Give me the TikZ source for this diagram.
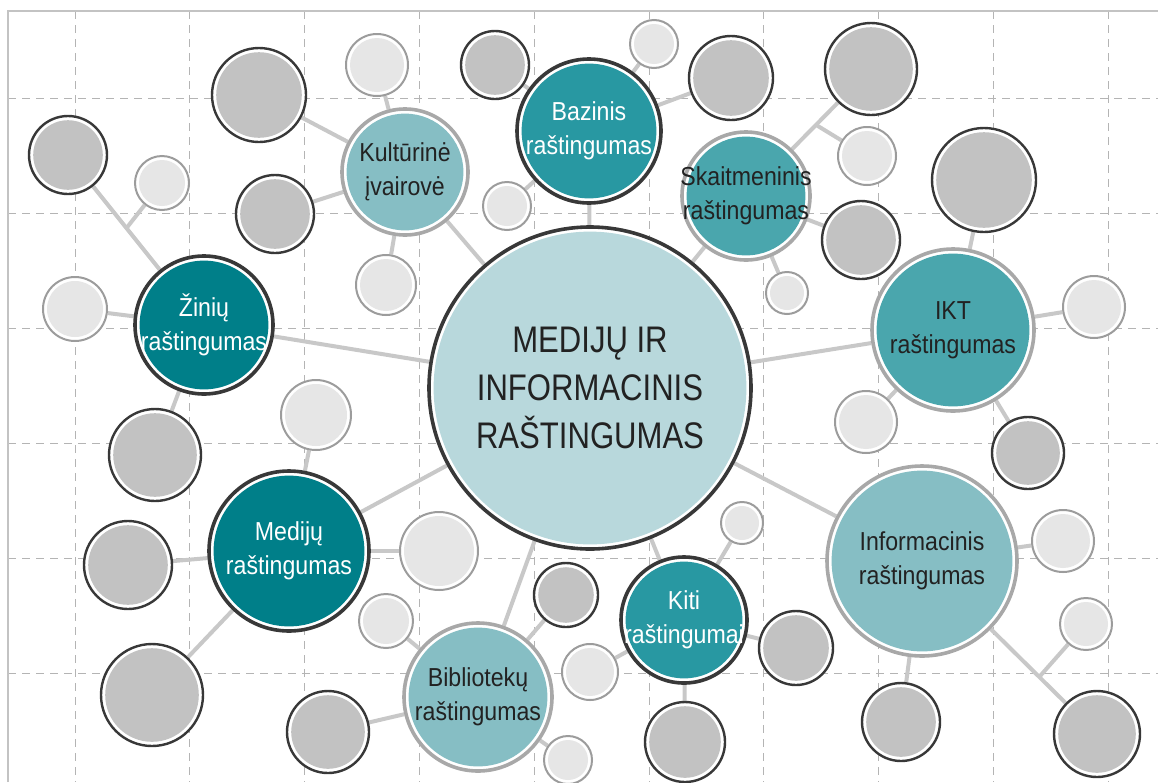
\documentclass[tikz,border=0pt]{standalone}
\usepackage{fontspec}
\setmainfont{Liberation Sans}
\newfontfamily\smallf{Liberation Sans}[FakeStretch=0.89]
\newfontfamily\bigf{Liberation Sans}[FakeStretch=0.84]
\usetikzlibrary{calc}
\pgfdeclarelayer{gridl}
\pgfdeclarelayer{bgl}
\pgfsetlayers{gridl,bgl,main}
\definecolor{darkteal}{HTML}{007F89}
\definecolor{medteal}{HTML}{2898A2}
\definecolor{teal3}{HTML}{4AA6AD}
\definecolor{liteal}{HTML}{86BEC4}
\definecolor{centr}{HTML}{B8D8DC}
\definecolor{ringdk}{HTML}{383838}
\definecolor{ringgr}{HTML}{A8A8A8}
\definecolor{ringlt}{HTML}{9C9C9C}
\definecolor{satdk}{HTML}{C2C2C2}
\definecolor{satlt}{HTML}{E6E6E6}
\definecolor{connc}{HTML}{C8C8C8}
\definecolor{gridc}{HTML}{B4B4B4}
\definecolor{txtdk}{HTML}{222222}
\tikzset{
  gdash/.style={draw=gridc, line width=1pt, dash pattern=on 8pt off 6pt},
  gsolid/.style={draw=gridc!80!white, line width=1.6pt},
  conn/.style={draw=connc, line width=4pt},
  dsat/.style={circle, inner sep=0pt, fill=white, minimum size={2*#1}, draw=ringdk, line width=2.4pt,
    path picture={\fill[satdk] (path picture bounding box.center) circle[radius={#1-4.2pt}];}},
  lsat/.style={circle, inner sep=0pt, fill=white, minimum size={2*#1}, draw=ringlt, line width=2pt,
    path picture={\fill[satlt] (path picture bounding box.center) circle[radius={#1-4pt}];}},
  mainn/.style n args={3}{circle, inner sep=-20pt, align=center, fill=white, minimum size={2*#1},
    draw=#2, line width=3.6pt,
    path picture={\fill[#3] (path picture bounding box.center) circle[radius={#1-4.6pt}];},
    font=\smallf\fontsize{26}{33.5}\selectfont},
  wtxt/.style={text=white},
  dtxt/.style={text=txtdk},
}
\begin{document}
\begin{tikzpicture}[x=1pt,y=-1pt]
\useasboundingbox (0,0) rectangle (1158,782);
\begin{pgfonlayer}{gridl}
\foreach \i in {0,...,9} \draw[gdash] ({75+114.8*\i},11) -- ({75+114.8*\i},782);
\foreach \j in {0,...,5} \draw[gdash] (8,{98+115*\j}) -- (1158,{98+115*\j});
\draw[gsolid] (8,782) -- (8,11) -- (1158,11);
\end{pgfonlayer}

% main nodes
\node[mainn={161pt}{ringdk}{centr}, dtxt, font=\bigf\fontsize{37}{48}\selectfont, inner sep=-60pt] (cen) at (590,388) {MEDIJŲ IR\\INFORMACINIS\\RAŠTINGUMAS};
\node[mainn={72pt}{ringdk}{medteal}, wtxt] (baz) at (589,131) {Bazinis\\raštingumas};
\node[mainn={63pt}{ringgr}{liteal}, dtxt] (kul) at (405,172) {Kultūrinė\\įvairovė};
\node[mainn={64pt}{ringgr}{teal3}, dtxt] (ska) at (746,196) {Skaitmeninis\\raštingumas};
\node[mainn={69pt}{ringdk}{darkteal}, wtxt] (zin) at (204,325) {Žinių\\raštingumas};
\node[mainn={81pt}{ringgr}{teal3}, dtxt] (ikt) at (953,330) {IKT\\raštingumas};
\node[mainn={80pt}{ringdk}{darkteal}, wtxt] (med) at (289,551) {Medijų\\raštingumas};
\node[mainn={63pt}{ringdk}{medteal}, wtxt] (kit) at (684,620) {Kiti\\raštingumai};
\node[mainn={74pt}{ringgr}{liteal}, dtxt] (bib) at (478,697) {Bibliotekų\\raštingumas};
\node[mainn={95pt}{ringgr}{liteal}, dtxt] (inf) at (922,561) {Informacinis\\raštingumas};

% dark satellites
\node[dsat=39pt] (d1) at (68,155) {};
\node[dsat=47pt] (d2) at (259,95) {};
\node[dsat=39pt] (d3) at (275,214) {};
\node[dsat=34pt] (d4) at (495,65) {};
\node[dsat=42pt] (d5) at (731,78) {};
\node[dsat=46pt] (d6) at (871,69) {};
\node[dsat=39pt] (d7) at (861,240) {};
\node[dsat=52pt] (d8) at (984,180) {};
\node[dsat=36pt] (d9) at (1028,453) {};
\node[dsat=46pt] (d10) at (155,455) {};
\node[dsat=44pt] (d11) at (128,565) {};
\node[dsat=51pt] (d12) at (152,695) {};
\node[dsat=41pt] (d13) at (328,732) {};
\node[dsat=32pt] (d14) at (566,595) {};
\node[dsat=37pt] (d15) at (796,648) {};
\node[dsat=40pt] (d16) at (685,742) {};
\node[dsat=39pt] (d17) at (901,722) {};
\node[dsat=43pt] (d18) at (1097,734) {};

% light satellites
\node[lsat=27pt] (l1) at (162,183) {};
\node[lsat=31pt] (l2) at (377,65) {};
\node[lsat=30pt] (l3) at (386,285) {};
\node[lsat=24pt] (l4) at (507,206) {};
\node[lsat=24pt] (l5) at (654,44) {};
\node[lsat=29pt] (l6) at (867,156) {};
\node[lsat=21pt] (l7) at (787,293) {};
\node[lsat=31pt] (l8) at (1094,307) {};
\node[lsat=31pt] (l9) at (866,422) {};
\node[lsat=32pt] (l10) at (75,309) {};
\node[lsat=35pt] (l11) at (316,415) {};
\node[lsat=39pt] (l12) at (439,551) {};
\node[lsat=27pt] (l13) at (386,621) {};
\node[lsat=28pt] (l14) at (590,672) {};
\node[lsat=24pt] (l15) at (568,760) {};
\node[lsat=21pt] (l16) at (742,523) {};
\node[lsat=31pt] (l17) at (1063,541) {};
\node[lsat=26pt] (l18) at (1086,624) {};

% junctions
\coordinate (j1) at ($(d1.center)!0.43!(zin.center)$);
\coordinate (j2) at ($(ska.center)!0.56!(d6.center)$);
\coordinate (j3) at ($(inf.center)!0.67!(d18.center)$);

\begin{pgfonlayer}{bgl}
\foreach \a in {zin,kul,baz,ska,ikt,inf,kit,bib,med} \draw[conn] (cen) -- (\a);
\foreach \a in {d2,l2,d3,l3} \draw[conn] (kul) -- (\a);
\foreach \a in {d4,l5,d5,l4} \draw[conn] (baz) -- (\a);
\foreach \a in {d6,d7,l7} \draw[conn] (ska) -- (\a);
\draw[conn] (j2) -- (l6);
\foreach \a in {d8,l8,l9,d9} \draw[conn] (ikt) -- (\a);
\foreach \a in {l17,d18,d17} \draw[conn] (inf) -- (\a);
\draw[conn] (j3) -- (l18);
\foreach \a in {l16,d15,d16,l14} \draw[conn] (kit) -- (\a);
\foreach \a in {d14,l15,d13,l13} \draw[conn] (bib) -- (\a);
\foreach \a in {l11,d11,d12,l12} \draw[conn] (med) -- (\a);
\foreach \a in {d1,l10,d10} \draw[conn] (zin) -- (\a);
\draw[conn] (j1) -- (l1);
\end{pgfonlayer}
\end{tikzpicture}
\end{document}
